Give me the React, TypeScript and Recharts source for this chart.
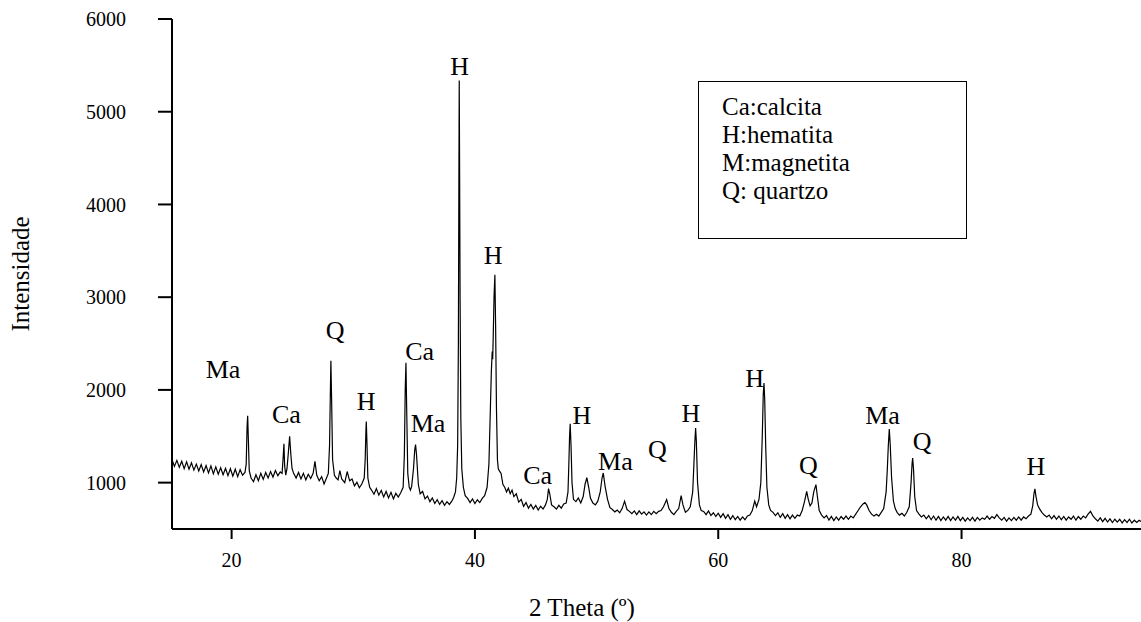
import { Line, LineChart, ReferenceDot, XAxis, YAxis } from "recharts";

// 2θ (degrees) / intensity (counts), segment by segment
const scanLowAngle: [number, number][] = [
  [15.1, 1250], [15.3, 1175], [15.5, 1240], [15.7, 1165], [15.9, 1230], [16.1, 1150], [16.3, 1225], [16.5, 1145], [16.7, 1215], [16.9, 1135],
  [17.1, 1200], [17.3, 1125], [17.5, 1195], [17.7, 1115], [17.9, 1185], [18.1, 1105], [18.3, 1180], [18.5, 1095], [18.7, 1170], [18.9, 1090],
  [19.1, 1160], [19.3, 1085], [19.5, 1155], [19.7, 1075], [19.9, 1150], [20.1, 1070], [20.3, 1145], [20.5, 1065], [20.7, 1140], [20.9, 1080],
  [21.1, 1110], [21.2, 1200], [21.27, 1600], [21.32, 1722], [21.38, 1450], [21.45, 1130], [21.6, 1050], [21.8, 1010], [22.0, 1085], [22.2, 1020],
  [22.4, 1100], [22.6, 1035], [22.8, 1110], [23.0, 1050], [23.2, 1120], [23.4, 1060], [23.6, 1130], [23.8, 1075], [24.0, 1115], [24.15, 1100],
  [24.25, 1300], [24.3, 1420], [24.36, 1180], [24.45, 1080], [24.55, 1150], [24.65, 1300], [24.77, 1499], [24.87, 1300], [24.97, 1150], [25.1, 1100],
  [25.3, 1050], [25.5, 1110], [25.7, 1040], [25.9, 1100], [26.1, 1030], [26.3, 1090], [26.5, 1045], [26.7, 1100], [26.85, 1230], [27.0, 1080],
  [27.2, 1020], [27.4, 1065], [27.6, 985], [27.8, 1050], [27.95, 1100],
];

const scanMainPeaks: [number, number][] = [
  [28.05, 1400], [28.12, 2000], [28.16, 2315], [28.22, 1900], [28.3, 1250], [28.45, 1080], [28.6, 1050], [28.75, 1030], [28.9, 1130], [29.05, 1040],
  [29.3, 1000], [29.5, 1120], [29.7, 1020], [29.9, 1040], [30.1, 965], [30.3, 1005], [30.5, 945], [30.7, 985], [30.9, 1050], [30.98, 1250],
  [31.04, 1560], [31.07, 1658], [31.12, 1450], [31.2, 1050], [31.35, 950], [31.5, 920], [31.7, 875], [31.9, 935], [32.1, 865], [32.3, 915],
  [32.5, 845], [32.7, 905], [32.9, 835], [33.1, 895], [33.3, 825], [33.5, 885], [33.7, 845], [33.9, 890], [34.1, 950], [34.2, 1300],
  [34.27, 2000], [34.33, 2293], [34.39, 1800], [34.48, 1100], [34.6, 950], [34.7, 920], [34.8, 960], [34.95, 1150], [35.05, 1350], [35.12, 1410],
  [35.2, 1300], [35.35, 980], [35.5, 880], [35.7, 905], [35.9, 825], [36.1, 855], [36.3, 795], [36.5, 835], [36.7, 775], [36.9, 815],
  [37.1, 765], [37.3, 805], [37.5, 755], [37.7, 795], [37.9, 765], [38.1, 800], [38.25, 840], [38.4, 900], [38.5, 1050], [38.58, 1400],
  [38.64, 2500], [38.68, 4200], [38.71, 5337], [38.74, 4400], [38.78, 3000], [38.84, 1700], [38.92, 1150],
];

const scanMidAngle: [number, number][] = [
  [39.05, 950], [39.2, 860], [39.4, 830], [39.6, 785], [39.8, 825], [40.0, 775], [40.2, 815], [40.4, 785], [40.6, 830], [40.8, 860],
  [41.0, 950], [41.15, 1200], [41.25, 1700], [41.35, 2200], [41.42, 2415], [41.46, 2330], [41.5, 2550], [41.57, 3000], [41.64, 3242], [41.7, 2700],
  [41.77, 1800], [41.85, 1250], [41.92, 1150], [42.0, 1130], [42.15, 1100], [42.3, 980], [42.45, 950], [42.6, 900], [42.75, 940], [42.9, 880],
  [43.05, 920], [43.2, 850], [43.4, 880], [43.6, 790], [43.8, 820], [44.0, 745], [44.2, 785], [44.4, 725], [44.6, 765], [44.8, 715],
  [45.0, 755], [45.2, 705], [45.4, 745], [45.6, 715], [45.8, 760], [45.95, 820], [46.05, 935], [46.15, 880], [46.3, 760], [46.5, 740],
  [46.7, 715], [46.9, 755], [47.1, 725], [47.3, 770], [47.5, 780], [47.65, 900], [47.72, 1200], [47.78, 1500], [47.83, 1636], [47.9, 1400],
  [47.98, 1000], [48.1, 820], [48.3, 795], [48.5, 835], [48.7, 780], [48.9, 850], [49.05, 980], [49.2, 1054], [49.35, 950], [49.5, 830],
  [49.7, 780], [49.9, 760], [50.1, 800], [50.3, 900], [50.45, 1050], [50.55, 1104], [50.7, 960], [50.9, 820], [51.1, 730], [51.3, 710],
  [51.5, 685], [51.7, 705], [51.9, 675],
];

const scanUpperMid: [number, number][] = [
  [52.1, 720], [52.3, 800], [52.5, 710], [52.7, 690], [52.9, 665], [53.1, 695], [53.3, 655], [53.5, 695], [53.7, 660], [53.9, 685],
  [54.1, 650], [54.3, 685], [54.5, 655], [54.7, 690], [54.9, 665], [55.1, 690], [55.3, 700], [55.5, 740], [55.76, 817], [55.95, 720],
  [56.15, 680], [56.35, 655], [56.55, 690], [56.75, 720], [56.95, 860], [57.1, 760], [57.3, 680], [57.5, 700], [57.7, 740], [57.9, 900],
  [58.0, 1200], [58.08, 1450], [58.14, 1589], [58.2, 1450], [58.3, 1000], [58.45, 760], [58.6, 700], [58.8, 690], [59.0, 655], [59.2, 695],
  [59.4, 645], [59.6, 675], [59.8, 635], [60.0, 670], [60.2, 625], [60.4, 665], [60.6, 615], [60.8, 655], [61.0, 605], [61.2, 645],
  [61.4, 600], [61.6, 635], [61.8, 595], [62.0, 630], [62.2, 600], [62.4, 640], [62.6, 650], [62.8, 700], [63.0, 800], [63.15, 740],
  [63.35, 820], [63.5, 1000], [63.62, 1500], [63.7, 1950], [63.76, 2075], [63.82, 1900], [63.9, 1400], [64.0, 950], [64.15, 760], [64.3, 700],
  [64.5, 680], [64.7, 645], [64.9, 675], [65.1, 625], [65.3, 665], [65.5, 615], [65.7, 655], [65.9, 610], [66.1, 650], [66.3, 615],
  [66.5, 650], [66.7, 640],
];

const scanHighAngle: [number, number][] = [
  [66.9, 700], [67.1, 800], [67.27, 906], [67.4, 820], [67.55, 750], [67.7, 780], [67.85, 900], [68.03, 978], [68.15, 850], [68.3, 700],
  [68.5, 650], [68.7, 620], [68.9, 645], [69.1, 595], [69.3, 635], [69.5, 590], [69.7, 630], [69.9, 595], [70.1, 635], [70.3, 605],
  [70.5, 640], [70.7, 605], [70.9, 640], [71.1, 620], [71.3, 660], [71.5, 700], [71.7, 740], [71.9, 770], [72.06, 784], [72.2, 760],
  [72.4, 700], [72.6, 660], [72.8, 640], [73.0, 660], [73.2, 640], [73.4, 680], [73.6, 720], [73.8, 900], [73.9, 1150], [73.98, 1400],
  [74.06, 1578], [74.14, 1400], [74.25, 1050], [74.4, 800], [74.55, 720], [74.7, 680], [74.9, 650], [75.1, 670], [75.3, 640], [75.5, 680],
  [75.7, 740], [75.85, 1000], [75.93, 1200], [75.98, 1266], [76.05, 1150], [76.15, 850], [76.3, 700], [76.5, 660], [76.7, 630], [76.9, 650],
  [77.1, 610], [77.3, 645], [77.5, 600], [77.7, 640], [77.9, 595], [78.1, 635], [78.3, 590], [78.5, 630], [78.7, 595], [78.9, 635],
  [79.1, 590], [79.3, 630], [79.5, 595], [79.7, 635], [79.9, 590],
];

const scanTail: [number, number][] = [
  [80.1, 625], [80.3, 585], [80.5, 620], [80.7, 590], [80.9, 625], [81.1, 585], [81.3, 625], [81.5, 595], [81.7, 620], [81.9, 605],
  [82.1, 640], [82.3, 605], [82.5, 635], [82.7, 615], [82.9, 655], [83.1, 620], [83.3, 595], [83.5, 625], [83.7, 585], [83.9, 620],
  [84.1, 590], [84.3, 625], [84.5, 595], [84.7, 630], [84.9, 595], [85.1, 630], [85.3, 610], [85.5, 640], [85.7, 660], [85.85, 750],
  [85.95, 880], [86.03, 932], [86.12, 850], [86.25, 760], [86.4, 720], [86.6, 680], [86.8, 650], [87.0, 630], [87.2, 650], [87.4, 610],
  [87.6, 645], [87.8, 605], [88.0, 640], [88.2, 600], [88.4, 635], [88.6, 595], [88.8, 630], [89.0, 605], [89.2, 640], [89.4, 595],
  [89.6, 635], [89.8, 605], [90.0, 640], [90.2, 620], [90.4, 660], [90.6, 690], [90.8, 640], [91.0, 610], [91.2, 585], [91.4, 620],
  [91.6, 580], [91.8, 615], [92.0, 575], [92.2, 610], [92.4, 570], [92.6, 605], [92.8, 575], [93.0, 605], [93.2, 565], [93.4, 600],
  [93.6, 570], [93.8, 605], [94.0, 565], [94.2, 595], [94.4, 570], [94.6, 595], [94.75, 580],
];

// phase labels above the peaks
const peakLabels = ["Ma", "Ca", "Q", "H", "Ca", "Ma", "H", "H", "Ca", "H", "Ma", "Q", "H", "H", "Q", "Ma", "Q", "H"];
const peakLabelTheta = [19.3, 24.5, 28.5, 31.05, 35.45, 36.15, 38.75, 41.5, 45.15, 48.8, 51.55, 55.0, 57.75, 63.0, 67.4, 73.5, 76.75, 86.1];
const peakLabelCounts = [2230, 1740, 2650, 1880, 2420, 1650, 5500, 3460, 1090, 1735, 1240, 1370, 1755, 2135, 1190, 1730, 1450, 1180];

const legendLines = ["Ca:calcita", "H:hematita", "M:magnetita", "Q: quartzo"];

const xTicks = [20, 40, 60, 80];
const yTicks = [1000, 2000, 3000, 4000, 5000, 6000];

const FONT = "'Liberation Serif', 'Times New Roman', serif";

const data = [...scanLowAngle, ...scanMainPeaks, ...scanMidAngle, ...scanUpperMid, ...scanHighAngle, ...scanTail].map(
  ([theta, counts]) => ({ theta, counts })
);

export default function App() {
  return (
    <div style={{ position: "absolute", left: 0, top: 0, width: 1141, height: 622, fontFamily: FONT, background: "#fff" }}>
      <LineChart width={1141} height={622} data={data} margin={{ top: 19, right: 0, left: 0, bottom: 0 }}>
        <XAxis
          dataKey="theta"
          type="number"
          domain={[15.1, 94.75]}
          ticks={xTicks}
          allowDataOverflow
          height={93}
          tickSize={10}
          tickMargin={14}
          tick={{ fill: "#000", fontSize: 20, fontFamily: FONT }}
          axisLine={{ stroke: "#000", strokeWidth: 2 }}
          tickLine={{ stroke: "#000", strokeWidth: 2 }}
          label={{
            content: () => (
              <text x={582} y={616} textAnchor="middle" fontSize={25} fontFamily={FONT} fill="#000">
                2 Theta (º)
              </text>
            ),
          }}
        />
        <YAxis
          type="number"
          domain={[500, 6000]}
          ticks={yTicks}
          allowDataOverflow
          width={172}
          tickSize={14}
          tickMargin={32}
          tick={{ fill: "#000", fontSize: 20, fontFamily: FONT }}
          axisLine={{ stroke: "#000", strokeWidth: 2 }}
          tickLine={{ stroke: "#000", strokeWidth: 2 }}
          label={{
            content: () => (
              <text
                x={20}
                y={274}
                transform="rotate(-90 20 274)"
                textAnchor="middle"
                dominantBaseline="central"
                fontSize={25}
                fontFamily={FONT}
                fill="#000"
              >
                Intensidade
              </text>
            ),
          }}
        />
        <Line
          type="linear"
          dataKey="counts"
          stroke="#000"
          strokeWidth={1.2}
          dot={false}
          isAnimationActive={false}
        />
        {peakLabels.map((text, i) => (
          <ReferenceDot
            key={i}
            x={peakLabelTheta[i]}
            y={peakLabelCounts[i]}
            r={1}
            fill="none"
            stroke="none"
            label={{ value: text, position: "center", fontSize: 26, fill: "#000", fontFamily: FONT }}
          />
        ))}
      </LineChart>
      <div
        style={{
          position: "absolute",
          left: 698,
          top: 81,
          width: 269,
          height: 158,
          boxSizing: "border-box",
          border: "1.5px solid #000",
          padding: "11px 0 0 23px",
          fontSize: 25,
          lineHeight: "28px",
          color: "#000",
        }}
      >
        {legendLines.map((line) => (
          <div key={line}>{line}</div>
        ))}
      </div>
    </div>
  );
}
